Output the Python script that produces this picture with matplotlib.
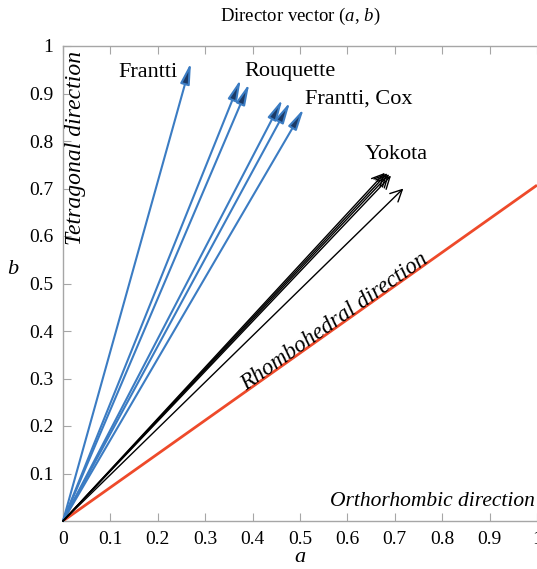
import matplotlib
matplotlib.use("Agg")
import matplotlib.pyplot as plt
import numpy as np

plt.rcParams['font.family'] = ['Liberation Serif', 'DejaVu Serif']
plt.rcParams['mathtext.fontset'] = 'custom'
plt.rcParams['mathtext.rm'] = 'Liberation Serif'
plt.rcParams['mathtext.it'] = 'Liberation Serif:italic'

# Data: director vector components (a, b)
blue_a = [0.270, 0.375, 0.393, 0.463, 0.479, 0.508]
blue_b = [0.965, 0.930, 0.921, 0.888, 0.882, 0.868]
black_a = [0.679, 0.684, 0.688, 0.692, 0.718]
black_b = [0.733, 0.732, 0.730, 0.727, 0.700]
rhombo_a = [0.0, 1.0]
rhombo_b = [0.0, 0.707]

label_names = ["Frantti", "Rouquette", "Frantti, Cox", "Yokota"]
label_pos = [(0.116, 0.945), (0.382, 0.947), (0.51, 0.888), (0.637, 0.772)]

xticks = [0, 0.1, 0.2, 0.3, 0.4, 0.5, 0.6, 0.7, 0.8, 0.9, 1.0]
xtick_labels = ["0", "0.1", "0.2", "0.3", "0.4", "0.5", "0.6", "0.7", "0.8", "0.9", "1"]
yticks = [0.1, 0.2, 0.3, 0.4, 0.5, 0.6, 0.7, 0.8, 0.9, 1.0]
ytick_labels = ["0.1", "0.2", "0.3", "0.4", "0.5", "0.6", "0.7", "0.8", "0.9", "1"]

blue = '#3b7cc3'
red = '#ee4a2a'
spine_c = '#a6a6a6'

fig = plt.figure(figsize=(5.37, 5.69), dpi=100)
ax = fig.add_axes([63/537, 1-521/569, 1-63/537, (521-46)/569])
ax.set_xlim(0, 1.0)
ax.set_ylim(0, 1.0)

ax.plot(rhombo_a, rhombo_b, color=red, lw=2.0, solid_capstyle='butt', zorder=2)

for a, b in zip(blue_a, blue_b):
    ax.annotate("", xy=(a, b), xytext=(0, 0),
                arrowprops=dict(arrowstyle="-|>,head_length=0.9,head_width=0.2",
                                color=blue, fc='#1c3a66', lw=1.5,
                                shrinkA=0, shrinkB=0, mutation_scale=14),
                zorder=3)

for a, b in zip(black_a, black_b):
    ax.annotate("", xy=(a, b), xytext=(0, 0),
                arrowprops=dict(arrowstyle="->,head_length=0.6,head_width=0.3",
                                color='black', lw=1.0,
                                shrinkA=0, shrinkB=0, mutation_scale=14),
                zorder=3)

for name, (x, y) in zip(label_names, label_pos):
    ax.text(x, y, name, fontsize=16, ha='left', va='center', zorder=4)

ax.text(0.027, 0.785, "Tetragonal direction", rotation=90, fontsize=17,
        style='italic', ha='center', va='center')
ax.text(0.572, 0.419, "Rhombohedral direction", rotation=35.2, fontsize=16.5,
        style='italic', ha='center', va='center', rotation_mode='anchor')
ax.text(0.996, 0.042, "Orthorhombic direction", fontsize=15.5,
        style='italic', ha='right', va='center')

ax.set_xticks(xticks)
ax.set_xticklabels(xtick_labels)
ax.set_yticks(yticks)
ax.set_yticklabels(ytick_labels)
ax.tick_params(axis='both', direction='in', length=6, color=spine_c,
               labelsize=14, top=True, right=False)
ax.tick_params(axis='x', pad=7)
ax.tick_params(axis='y', pad=7)

for s in ['left', 'bottom', 'top']:
    ax.spines[s].set_color(spine_c)
    ax.spines[s].set_linewidth(1.0)
ax.spines['right'].set_visible(False)

fig.text(300/537, 1-16/569, "Director vector (" + "$a$" + ", " + "$b$" + ")",
         fontsize=13.5, ha='center', va='center')
fig.text(300/537, 1-557/569, "$a$", fontsize=16, ha='center', va='center')
fig.text(13/537, 1-270/569, "$b$", fontsize=16, ha='center', va='center')

fig.savefig("out.png", dpi=100)
